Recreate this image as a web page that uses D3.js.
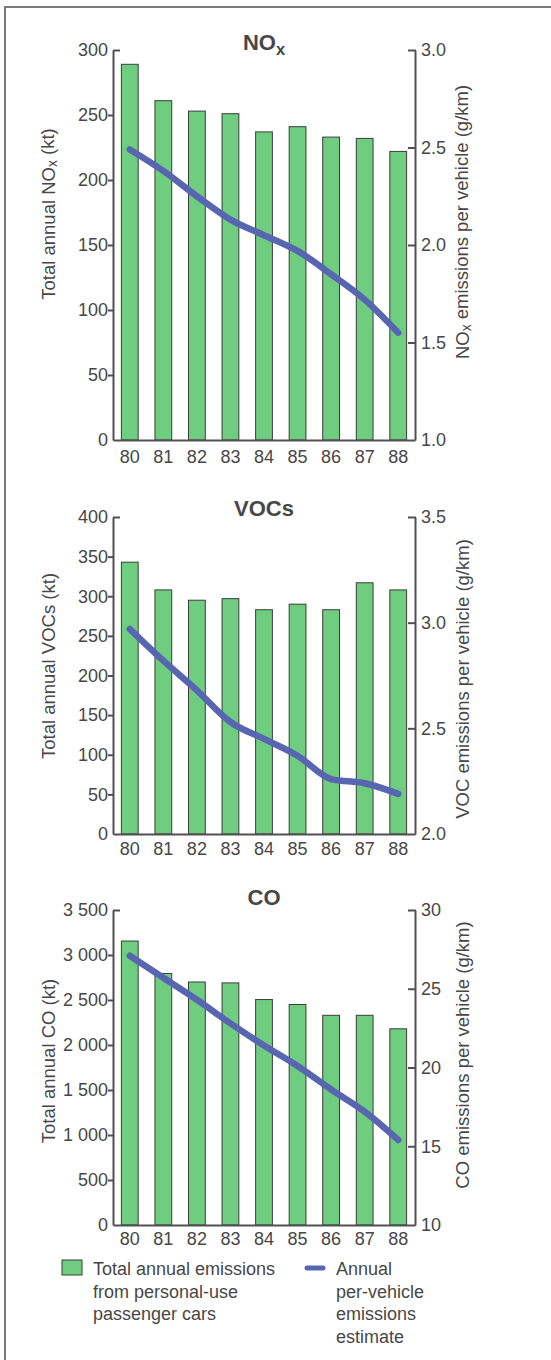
<!DOCTYPE html>
<html>
<head>
<meta charset="utf-8">
<script src="https://cdn.jsdelivr.net/npm/d3@7"></script>
<style>
  body { margin: 0; background: #fff; }
  svg { display: block; font-family: "Liberation Sans", Arial, sans-serif; }
</style>
</head>
<body>
<svg id="chart" width="551" height="1360"></svg>
<script>
// years on the x axis
const years = ["80", "81", "82", "83", "84", "85", "86", "87", "88"];

// NOx
const noxTotals = [289, 261, 253, 251, 237, 241, 233, 232, 222];
const noxPerVehicle = [2.49, 2.38, 2.25, 2.13, 2.05, 1.97, 1.85, 1.72, 1.55];
const noxLeftTicks = [0, 50, 100, 150, 200, 250, 300];
const noxRightTicks = [1.0, 1.5, 2.0, 2.5, 3.0];

// VOCs
const vocTotals = [343, 308, 295, 297, 283, 290, 283, 317, 308];
const vocPerVehicle = [2.97, 2.82, 2.68, 2.53, 2.45, 2.37, 2.26, 2.24, 2.19];
const vocLeftTicks = [0, 50, 100, 150, 200, 250, 300, 350, 400];
const vocRightTicks = [2.0, 2.5, 3.0, 3.5];

// CO
const coTotals = [3155, 2795, 2700, 2690, 2505, 2450, 2330, 2330, 2180];
const coPerVehicle = [27.1, 25.7, 24.3, 22.8, 21.4, 20.1, 18.6, 17.2, 15.4];
const coLeftTicks = [0, 500, 1000, 1500, 2000, 2500, 3000, 3500];
const coRightTicks = [10, 15, 20, 25, 30];

const legendBarLines = ["Total annual emissions", "from personal-use", "passenger cars"];
const legendLineLines = ["Annual", "per-vehicle", "emissions", "estimate"];

const svg = d3.select("#chart");
const textColor = "#474747";
const axisColor = "#505050";
const barColor = "#6fcd80";
const lineColor = "#5866b2";

// left/right edge of every plot
const plotLeft = 113, plotRight = 415;

let x = d3.scaleBand()
    .domain(years)
    .range([plotLeft, plotRight])
    .paddingInner(0.5)
    .paddingOuter(0.25);

let spaced = d3.formatLocale({decimal: ".", thousands: " ", grouping: [3], currency: ["", ""]});

// panel setup (layout lives here, values above)
let panels = [
    {title: "NO", sub: "x", totals: noxTotals, perVehicle: noxPerVehicle,
     leftTicks: noxLeftTicks, rightTicks: noxRightTicks, leftFmt: d3.format("d"), rightFmt: d3.format(".1f"),
     leftLabel: [["Total annual NO", ""], ["x", "sub"], [" (kt)", ""]],
     rightLabel: [["NO", ""], ["x", "sub"], [" emissions per vehicle (g/km)", ""]],
     top: 50, bottom: 440, titleY: 50, labelY: 463, leftMid: 214, rightMid: 222},
    {title: "VOCs", sub: "", totals: vocTotals, perVehicle: vocPerVehicle,
     leftTicks: vocLeftTicks, rightTicks: vocRightTicks, leftFmt: d3.format("d"), rightFmt: d3.format(".1f"),
     leftLabel: [["Total annual VOCs (kt)", ""]],
     rightLabel: [["VOC emissions per vehicle (g/km)", ""]],
     top: 517, bottom: 834, titleY: 516, labelY: 855, leftMid: 666, rightMid: 679},
    {title: "CO", sub: "", totals: coTotals, perVehicle: coPerVehicle,
     leftTicks: coLeftTicks, rightTicks: coRightTicks, leftFmt: spaced.format(",d"), rightFmt: d3.format("d"),
     leftLabel: [["Total annual CO (kt)", ""]],
     rightLabel: [["CO emissions per vehicle (g/km)", ""]],
     top: 910, bottom: 1225, titleY: 905, labelY: 1245, leftMid: 1061, rightMid: 1055}
];

// frame
svg.append("path")
    .attr("d", "M5,1360 V7 H551")
    .attr("fill", "none")
    .attr("stroke", "#7a7a7a")
    .attr("stroke-width", 2);

function addLabel(g, parts) {
    let t = g.append("text");
    parts.forEach(p => {
        let ts = t.append("tspan").text(p[0]);
        if (p[1] === "sub") ts.attr("font-size", "0.75em").attr("dy", "0.3em");
        else if (t.selectAll("tspan").size() > 1) ts.attr("dy", "-0.3em");
    });
    return t;
}

panels.forEach(p => {
    let yL = d3.scaleLinear()
        .domain([0, d3.max(p.leftTicks)])
        .range([p.bottom, p.top]);
    let yR = d3.scaleLinear()
        .domain(d3.extent(p.rightTicks))
        .range([p.bottom, p.top]);
    let topL = d3.max(p.leftTicks);
    let minR = d3.min(p.rightTicks);

    let g = svg.append("g");

    // bars
    g.selectAll(".bar")
        .data(p.totals)
        .join("rect")
        .attr("x", (d, i) => x(years[i]))
        .attr("y", d => yL(d))
        .attr("width", x.bandwidth())
        .attr("height", d => yL(0) - yL(d))
        .attr("fill", barColor)
        .attr("stroke", "#3c3c3c")
        .attr("stroke-width", 1);

    // left axis
    let la = g.append("g")
        .attr("transform", "translate(" + plotLeft + ",0)")
        .call(d3.axisLeft(yL).tickValues(p.leftTicks).tickFormat(p.leftFmt)
              .tickSize(5).tickSizeOuter(0).tickPadding(0));
    la.selectAll(".tick line")
        .attr("x2", d => d === topL ? 7 : -5)
        .attr("stroke-width", 2)
        .attr("display", d => d === 0 ? "none" : null);

    // right axis
    let ra = g.append("g")
        .attr("transform", "translate(" + plotRight + ",0)")
        .call(d3.axisRight(yR).tickValues(p.rightTicks).tickFormat(p.rightFmt)
              .tickSize(5).tickSizeOuter(0).tickPadding(1));
    ra.selectAll(".tick line")
        .attr("x1", 1)
        .attr("x2", -7)
        .attr("stroke-width", 2)
        .attr("display", d => d === minR ? "none" : null);

    // bottom axis
    let ba = g.append("g")
        .attr("transform", "translate(0," + p.bottom + ")")
        .call(d3.axisBottom(x).tickSize(0).tickSizeOuter(0));
    ba.selectAll(".tick text")
        .attr("y", p.labelY - p.bottom)
        .attr("dy", null);

    [la, ra, ba].forEach(a => {
        a.attr("font-size", null).attr("font-family", null);
        a.select(".domain").attr("stroke", axisColor).attr("stroke-width", 2);
        a.selectAll(".tick line").attr("stroke", axisColor);
        a.selectAll(".tick text").attr("fill", textColor).style("font-size", "18px");
    });

    // per-vehicle line
    let line = d3.line()
        .x((d, i) => x(years[i]) + x.bandwidth() / 2)
        .y(d => yR(d))
        .curve(d3.curveMonotoneX);
    g.append("path")
        .datum(p.perVehicle)
        .attr("d", line)
        .attr("fill", "none")
        .attr("stroke", lineColor)
        .attr("stroke-width", 6.5)
        .attr("stroke-linecap", "round")
        .attr("stroke-linejoin", "round");

    // panel title
    let title = g.append("text")
        .attr("x", (plotLeft + plotRight) / 2)
        .attr("y", p.titleY)
        .attr("text-anchor", "middle")
        .attr("fill", textColor)
        .style("font-size", "22px")
        .style("font-weight", "bold");
    title.append("tspan").text(p.title);
    if (p.sub) title.append("tspan").text(p.sub).attr("font-size", "0.75em").attr("dy", "0.3em");

    // axis titles
    let lt = addLabel(g.append("g").attr("transform", "translate(48," + p.leftMid + ") rotate(-90)"), p.leftLabel);
    let rt = addLabel(g.append("g").attr("transform", "translate(462," + p.rightMid + ") rotate(-90)"), p.rightLabel);
    [lt, rt].forEach(t => t
        .attr("text-anchor", "middle")
        .attr("dominant-baseline", "central")
        .attr("fill", textColor)
        .style("font-size", "18.5px"));
});

// legend
let lg = svg.append("g").attr("fill", textColor).style("font-size", "18px");
lg.append("rect")
    .attr("x", 62).attr("y", 1260)
    .attr("width", 20).attr("height", 15)
    .attr("fill", barColor)
    .attr("stroke", "#3c3c3c");
lg.selectAll(".lb")
    .data(legendBarLines)
    .join("text")
    .attr("x", 93)
    .attr("y", (d, i) => 1275 + i * 22.5)
    .text(d => d);
lg.append("line")
    .attr("x1", 307).attr("x2", 323)
    .attr("y1", 1268).attr("y2", 1268)
    .attr("stroke", lineColor)
    .attr("stroke-width", 5)
    .attr("stroke-linecap", "round");
lg.selectAll(".ll")
    .data(legendLineLines)
    .join("text")
    .attr("x", 336)
    .attr("y", (d, i) => 1275 + i * 22.5)
    .text(d => d);
</script>
</body>
</html>
